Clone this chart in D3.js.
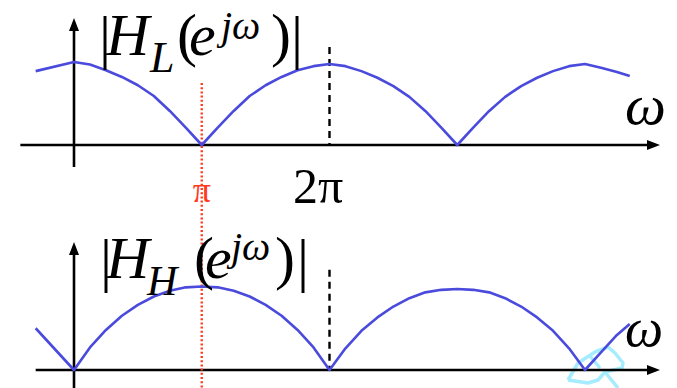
<!DOCTYPE html>
<html>
<head>
<meta charset="utf-8">
<script src="https://cdn.jsdelivr.net/npm/d3@7"></script>
<style>
    html, body { margin: 0; padding: 0; background: #fff; }
</style>
</head>
<body>
<div id="chart"></div>
<script>
// omega in units of pi
var omega = [-0.3, 0, 0.125, 0.25, 0.375, 0.5, 0.625, 0.75, 0.875, 1,
    1.125, 1.25, 1.375, 1.5, 1.625, 1.75, 1.875, 2,
    2.125, 2.25, 2.375, 2.5, 2.625, 2.75, 2.875, 3,
    3.125, 3.25, 3.375, 3.5, 3.625, 3.75, 3.875, 4,
    4.125, 4.25, 4.35];

// |H_L| lowpass magnitude
var lowMag = [0.89, 1.00, 0.97, 0.90, 0.82, 0.72, 0.59, 0.41, 0.21, 0,
    0.21, 0.41, 0.59, 0.72, 0.82, 0.90, 0.95, 0.975,
    0.95, 0.89, 0.81, 0.71, 0.58, 0.41, 0.21, 0,
    0.21, 0.41, 0.58, 0.71, 0.81, 0.89, 0.95, 0.975,
    0.93, 0.88, 0.83];

// |H_H| highpass magnitude
var highMag = [0.50, 0, 0.27, 0.48, 0.65, 0.78, 0.88, 0.95, 0.99, 1.00,
    0.99, 0.95, 0.88, 0.78, 0.65, 0.48, 0.27, 0,
    0.26, 0.47, 0.63, 0.76, 0.86, 0.93, 0.96, 0.97,
    0.96, 0.93, 0.86, 0.76, 0.63, 0.47, 0.26, 0,
    0.21, 0.42, 0.55];

var piLabel = "\u03c0";
var twoPiLabel = "2\u03c0";
var omegaLabel = "\u03c9";

(function () {
    var width = 677,
        height = 388;

    var blue = "#4a4adc",
        red = "#ff3b1f",
        serif = "'Liberation Serif', 'DejaVu Serif', 'Times New Roman', Times, serif";

    var svg = d3.select("#chart")
        .append("svg")
        .attr("width", width)
        .attr("height", height);

    var x = d3.scaleLinear().domain([0, 2]).range([74, 329.5]);
    var yTop = d3.scaleLinear().domain([0, 1]).range([145, 62]);
    var yBot = d3.scaleLinear().domain([0, 1]).range([370, 286.5]);

    function arrowLine(x1, y1, x2, y2) {
        svg.append("line")
            .attr("x1", x1).attr("y1", y1)
            .attr("x2", x2).attr("y2", y2)
            .attr("stroke", "#000")
            .attr("stroke-width", 2.6);
    }

    function arrowHead(tx, ty, dir) {
        var pts;
        if (dir === "right") {
            pts = [[tx, ty], [tx - 13, ty - 5], [tx - 13, ty + 5]];
        } else {
            pts = [[tx, ty], [tx - 5, ty + 13], [tx + 5, ty + 13]];
        }
        svg.append("path")
            .attr("d", "M" + pts.join("L") + "Z")
            .attr("fill", "#000");
    }

    // light blue pen mark near 4pi (drawn under the axis)
    var cyanMarks = [
        [[568, 380], [578, 363], [595, 352], [608, 347], [615, 353], [623, 363], [622, 368], [605, 372], [598, 380], [588, 383], [568, 380]],
        [[605, 372], [618, 388]],
        [[590, 356], [600, 368]]
    ];
    cyanMarks.forEach(function (m) {
        svg.append("path")
            .attr("d", "M" + m.join("L"))
            .attr("fill", "none")
            .attr("stroke", "#a6ecff")
            .attr("stroke-width", 3.5)
            .attr("stroke-linejoin", "round");
    });

    // top panel axes
    arrowLine(x(-0.42), yTop(0), x(4.55), yTop(0));
    arrowHead(x(4.587), yTop(0), "right");
    arrowLine(x(0), 167, x(0), 28);
    arrowHead(x(0), 18, "up");

    // bottom panel axes
    arrowLine(x(-0.3), yBot(0), x(4.55), yBot(0));
    arrowHead(x(4.587), yBot(0), "right");
    arrowLine(x(0), height, x(0), 252);
    arrowHead(x(0), 242, "up");

    // dashed marks at 2pi
    svg.append("line")
        .attr("x1", x(2)).attr("x2", x(2))
        .attr("y1", yTop(1.18)).attr("y2", yTop(0))
        .attr("stroke", "#000").attr("stroke-width", 2.4)
        .attr("stroke-dasharray", "7,5");
    svg.append("line")
        .attr("x1", x(2)).attr("x2", x(2))
        .attr("y1", yBot(1.2)).attr("y2", yBot(0))
        .attr("stroke", "#000").attr("stroke-width", 2.4)
        .attr("stroke-dasharray", "7,5");

    // red dotted line at pi
    svg.append("line")
        .attr("x1", x(1)).attr("x2", x(1))
        .attr("y1", 83).attr("y2", height)
        .attr("stroke", red).attr("stroke-width", 2.4)
        .attr("stroke-dasharray", "2,2.2");

    // curves
    var lineTop = d3.line()
        .x(function (d, i) { return x(omega[i]); })
        .y(function (d) { return yTop(d); });
    var lineBot = d3.line()
        .x(function (d, i) { return x(omega[i]); })
        .y(function (d) { return yBot(d); });

    svg.append("path")
        .datum(lowMag)
        .attr("d", lineTop)
        .attr("fill", "none")
        .attr("stroke", blue)
        .attr("stroke-width", 2.6)
        .attr("stroke-linejoin", "round");

    svg.append("path")
        .datum(highMag)
        .attr("d", lineBot)
        .attr("fill", "none")
        .attr("stroke", blue)
        .attr("stroke-width", 2.6)
        .attr("stroke-linejoin", "round");

    function txt(tx, ty, s, size, italic, color) {
        return svg.append("text")
            .attr("x", tx)
            .attr("y", ty)
            .attr("font-family", serif)
            .attr("font-size", size)
            .attr("font-style", italic ? "italic" : "normal")
            .attr("fill", color || "#000")
            .text(s);
    }

    // |H_L(e^{jw})|
    txt(99, 57, "|", 60, false);
    txt(106, 55, "H", 60, true);
    txt(150, 72, "L", 44, true);
    txt(177, 55, "(", 60, false);
    txt(189, 55, "e", 60, true);
    txt(221, 39, "j" + omegaLabel, 40, true);
    txt(271, 55, ")", 60, false);
    txt(291, 57, "|", 60, false);

    // |H_H(e^{jw})|
    txt(100, 280, "|", 60, false);
    txt(106, 278, "H", 60, true);
    txt(147, 295, "H", 42, true);
    txt(194, 278, "(", 60, false);
    txt(205, 278, "e", 60, true);
    txt(231, 260, "j" + omegaLabel, 40, true);
    txt(275, 278, ")", 60, false);
    txt(297, 280, "|", 60, false);

    // axis labels
    txt(x(1), 202, piLabel, 36, false, red).attr("text-anchor", "middle");
    txt(293, 203, twoPiLabel, 50, false);
    txt(625, 124, omegaLabel, 58, true);
    txt(625, 346, omegaLabel, 54, true);
})();
</script>
</body>
</html>
